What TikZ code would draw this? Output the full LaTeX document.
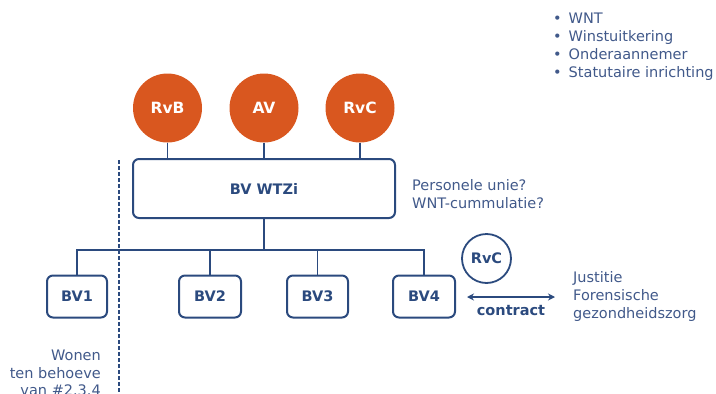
\documentclass[tikz,border=0pt]{standalone}
\usepackage{fontspec}
\setmainfont{DejaVu Sans}
\usetikzlibrary{arrows.meta}
\definecolor{navy}{HTML}{2B4A7E}
\definecolor{txt}{HTML}{41598A}
\definecolor{orng}{HTML}{D9571F}
\tikzset{
  box/.style={draw=navy,line width=2pt,rounded corners=6pt,inner sep=0pt,font=\fontsize{14.5}{17}\selectfont\bfseries,text=navy},
  org/.style={circle,fill=orng,draw=none,minimum size=69pt,inner sep=0pt,font=\fontsize{15.5}{17}\selectfont\bfseries,text=white},
  conn/.style={draw=navy,line width=1.8pt},
  lbl/.style={font=\fontsize{14.5}{18}\selectfont,text=txt,inner sep=0pt}
}
\begin{document}
\begin{tikzpicture}[x=1pt,y=-1pt]
\useasboundingbox (0,0) rectangle (716,394);
\clip (0,0) rectangle (716,394);
% top circles
\node[org] (rvb) at (167.5,108) {RvB};
\node[org] (av) at (264,108) {AV};
\node[org] (rvc) at (360,108) {RvC};
% main box
\node[box,minimum width=262pt,minimum height=59pt] (wtzi) at (264,188.5) {BV WTZi};
\draw[conn] (rvb.south) -- (rvb.south |- wtzi.north);
\draw[conn] (av.south) -- (av.south |- wtzi.north);
\draw[conn] (rvc.south) -- (rvc.south |- wtzi.north);
% BV boxes
\node[box,minimum width=60pt,minimum height=42pt] (bv1) at (77,296.5) {BV1};
\node[box,minimum width=62pt,minimum height=42pt] (bv2) at (210,296.5) {BV2};
\node[box,minimum width=61pt,minimum height=42pt] (bv3) at (317.5,296.5) {BV3};
\node[box,minimum width=62pt,minimum height=42pt] (bv4) at (424,296.5) {BV4};
\coordinate (j) at (264,250);
\draw[conn] (wtzi.south) -- (j);
\draw[conn] (bv1.north) -- (bv1.north |- j) -- (bv4.north |- j) -- (bv4.north);
\draw[conn] (bv2.north) -- (bv2.north |- j);
\draw[conn] (bv3.north) -- (bv3.north |- j);
% dashed divider
\coordinate (d1) at (119,160);
\coordinate (d2) at (119,394);
\draw[draw=navy,line width=1.6pt,dash pattern=on 3.5pt off 2.5pt] (d1) -- (d2);
% small RvC
\node[circle,draw=navy,line width=1.8pt,minimum size=49pt,inner sep=0pt,font=\fontsize{14.5}{17}\selectfont\bfseries,text=navy] (rvc2) at (486.5,258.5) {RvC};
% contract arrow
\coordinate (a1) at (467,297);
\coordinate (a2) at (555,297);
\draw[conn,{Stealth[length=7pt,width=7pt]}-{Stealth[length=7pt,width=7pt]}] (a1) -- (a2);
\node[font=\fontsize{14.5}{17}\selectfont\bfseries,text=navy,inner sep=0pt] (contract) at (511,311) {contract};
% texts
\node[lbl,anchor=west,align=left] (just) at (573,296) {Justitie\\Forensische\\gezondheidszorg};
\node[lbl,anchor=west,align=left] (pers) at (412,194.5) {Personele unie?\\WNT-cummulatie?};
\node[lbl,anchor=east,align=right,font=\fontsize{14.5}{17.5}\selectfont] (wonen) at (101,373) {Wonen\\ten behoeve\\van \#2.3.4};
\node[lbl,anchor=west,align=left] (list) at (553,47) {\textbullet\hspace{7pt}WNT\\\textbullet\hspace{7pt}Winstuitkering\\\textbullet\hspace{7pt}Onderaannemer\\\textbullet\hspace{7pt}Statutaire inrichting};
\end{tikzpicture}
\end{document}
